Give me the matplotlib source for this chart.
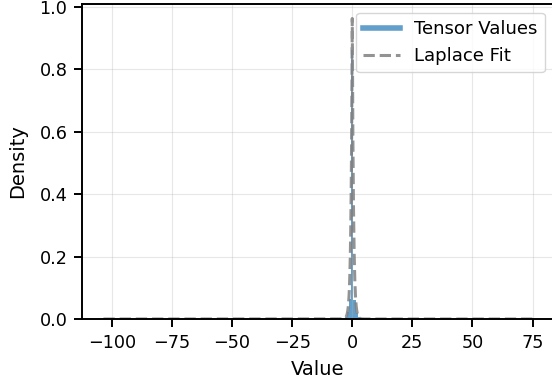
import matplotlib
matplotlib.use("Agg")
import matplotlib.pyplot as plt
from matplotlib.lines import Line2D
import numpy as np

# histogram of tensor values (density), bins near zero; all other bins ~0
bin_edges = [-103.5, -3.15, -2.25, -1.35, -0.45, 0.45, 1.35, 2.25, 3.15, 75.0]
bin_density = [0.0, 0.006, 0.022, 0.065, 0.86, 0.06, 0.02, 0.005, 0.0]

# Laplace fit parameters
laplace_loc = 0.0
laplace_scale = 0.52
value_min = -103.5
value_max = 75.0

blue = "#1f77b4"

fig = plt.figure(figsize=(5.52, 3.89), dpi=100)
ax = fig.add_axes([82 / 552, 70 / 389, 472 / 552, 315.5 / 389])

ax.stairs(bin_density, bin_edges, fill=True, color=blue, alpha=0.7)

x = np.sort(np.append(np.linspace(value_min, value_max, 2000), laplace_loc))
pdf = np.exp(-np.abs(x - laplace_loc) / laplace_scale) / (2 * laplace_scale)
ax.plot(x, pdf, color="gray", linestyle="--", linewidth=2.2, alpha=0.85)

ax.set_ylim(bottom=0)
ax.set_xticks([-100, -75, -50, -25, 0, 25, 50, 75])
ax.set_yticks([0.0, 0.2, 0.4, 0.6, 0.8, 1.0])

ax.set_xlabel("Value", fontsize=14, labelpad=6)
ax.set_ylabel("Density", fontsize=14, labelpad=9)
ax.tick_params(labelsize=12.7, length=6, width=1.4, pad=4.5)
for sp in ax.spines.values():
    sp.set_linewidth(1.4)
ax.grid(True, alpha=0.3)

handles = [
    Line2D([0], [0], color=blue, alpha=0.7, linewidth=4),
    Line2D([0], [0], color="gray", linestyle="--", linewidth=2.2, alpha=0.85),
]
ax.legend(handles, ["Tensor Values", "Laplace Fit"], loc="upper right",
          fontsize=13.1, borderaxespad=0.5)

fig.savefig("out.png", dpi=100)
